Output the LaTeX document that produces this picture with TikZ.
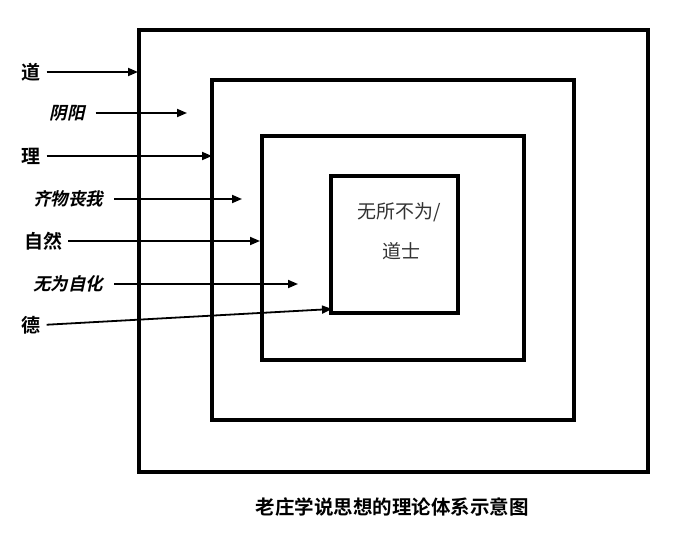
\documentclass[tikz,border=0pt]{standalone}
\usepackage{fontspec}
\usetikzlibrary{arrows.meta}
\newfontfamily\cjk{Noto Sans CJK SC}[BoldFont={Noto Sans CJK SC Bold}]
\newfontfamily\cjkit{Noto Sans CJK SC Bold}[FakeSlant=0.22]
\begin{document}
\begin{tikzpicture}[x=1pt,y=-1pt,
  box/.style={draw=black,line width=4.5pt,inner sep=0pt,minimum width=#1},
  lab/.style={font=\cjk\bfseries\fontsize{19}{19}\selectfont,inner sep=1pt},
  labit/.style={font=\cjkit\fontsize{17.5}{17.5}\selectfont,inner sep=1pt},
  arr/.style={line width=1.8pt,-{Triangle[length=10pt,width=8pt]},shorten <=5pt},
  arrit/.style={arr,shorten <=10pt}]
\useasboundingbox (0,0) rectangle (677,538);
\fill[white] (0,0) rectangle (677,538);
% boxes
\node[box=509pt,minimum height=442pt] (b1) at (393.5,251) {};
\node[box=362pt,minimum height=340pt] (b2) at (393,250) {};
\node[box=262pt,minimum height=224pt] (b3) at (393,248) {};
\node[box=127pt,minimum height=137pt] (b4) at (394.5,244.5) {};
% inner text
\node[font=\cjk\fontsize{19}{19}\selectfont,text=black!80] (t1) at (399,212) {无所不为/};
\node[font=\cjk\fontsize{19}{19}\selectfont,text=black!80] (t2) at (401,251) {道士};
% labels
\node[lab] (l1) at (31,72) {道};
\node[labit] (l2) at (67,113) {阴阳};
\node[lab] (l3) at (31,156) {理};
\node[labit] (l4) at (68,199) {齐物丧我};
\node[lab] (l5) at (43,241) {自然};
\node[labit] (l6) at (68,284) {无为自化};
\node[lab] (l7) at (31,325) {德};
% arrow ends
\coordinate (e1) at (138,72);
\coordinate (e2) at (187,113);
\coordinate (e3) at (212,156);
\coordinate (e4) at (242,199);
\coordinate (e5) at (260,241);
\coordinate (e6) at (298,284);
\coordinate (e7) at (332,309);
\draw[arr] (l1.east) -- (e1);
\draw[arrit] (l2.east) -- (e2);
\draw[arr] (l3.east) -- (e3);
\draw[arrit] (l4.east) -- (e4);
\draw[arr] (l5.east) -- (e5);
\draw[arrit] (l6.east) -- (e6);
\draw[arr] (l7.east) -- (e7);
% caption
\node[font=\cjk\bfseries\fontsize{19.5}{19.5}\selectfont] (cap) at (392,507) {老庄学说思想的理论体系示意图};
\end{tikzpicture}
\end{document}
